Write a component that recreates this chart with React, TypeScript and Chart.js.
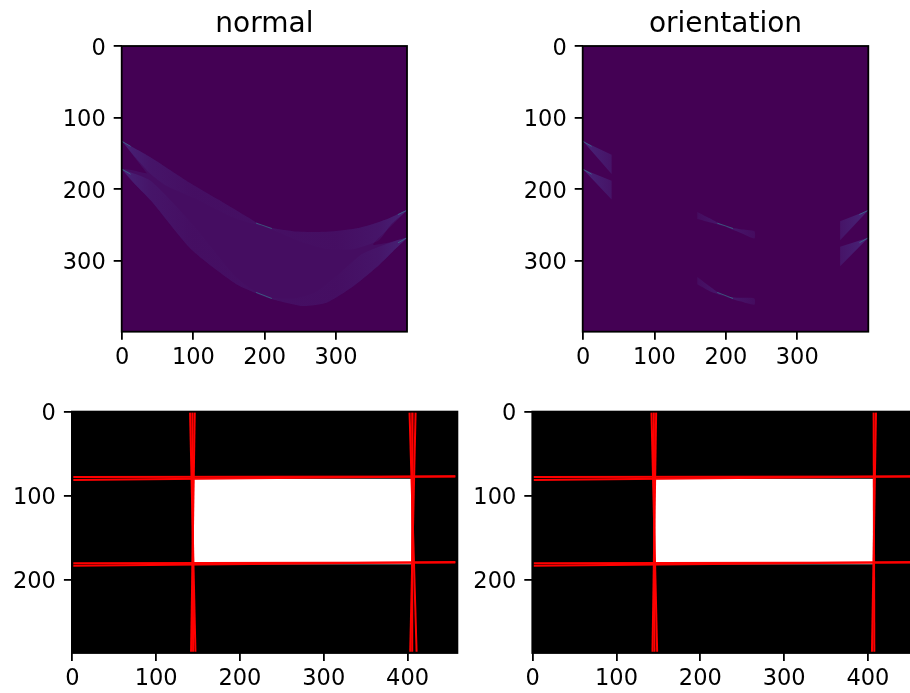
import React, { useEffect, useRef } from "react";
import { Chart, registerables } from "chart.js";

Chart.register(...registerables);

// ---------- data (image-space coordinates) ----------
const heatTicks = [0, 100, 200, 300];
const photoXTicks = [0, 100, 200, 300, 400];
const photoYTicks = [0, 100, 200];
const panelTitles = ["normal", "orientation"];

const normalBandA = [
  [0, 133], [41, 156], [88, 186.6], [135, 214.5], [181, 242], [198, 252], [240, 258.8], [286, 259.7], [333, 254], [370, 242.5], [399.5, 229.4],
  [377, 249.5], [360, 271.4], [324, 284], [287, 284], [254, 275], [225, 263], [198, 252], [160, 241.6], [100, 212], [60, 194], [40, 178.7], [18, 155],
];
const normalBandB = [
  [0, 172], [40, 188], [100, 250], [160, 323], [198, 349.7], [240, 353], [270, 345], [300, 322], [333, 293], [360, 280.7], [399.5, 268],
  [380, 286.7], [356, 310], [323, 337], [287, 359], [254, 363.6], [221, 356.8], [198, 349.7], [160, 333], [97, 284.5], [41, 216.6], [18, 193],
];
const normalEnvelope = [
  [0, 133], [41, 156], [88, 186.6], [135, 214.5], [181, 242], [198, 252], [240, 258.8], [286, 259.7], [333, 254], [370, 242.5], [399.5, 229.4],
  [377, 252], [352, 277.5], [372, 275], [399.5, 268],
  [380, 286.7], [356, 310], [323, 337], [287, 359], [254, 363.6], [221, 356.8], [198, 349.7], [160, 333], [97, 284.5], [41, 216.6], [0, 172],
  [35, 178],
];

const patchLeftA = [[0, 133], [40, 151.6], [40, 178.7]];
const patchLeftB = [[0, 172], [40, 188], [40, 214.5]];
const patchMidA = [[160, 231.8], [180, 242], [198, 252], [220, 256], [240, 258.8], [240, 269], [220, 261], [198, 252], [180, 247], [160, 241.6]];
const patchMidB = [[160, 323], [180, 338], [198, 349.7], [220, 352], [240, 353], [240, 361.7], [220, 357], [198, 349.7], [180, 344], [160, 333]];
const patchRightA = [[360, 244.8], [399.5, 229.4], [360, 271.4]];
const patchRightB = [[360, 280.7], [399.5, 268], [360, 307.7]];

const tipStreaks = [
  [[0, 133], [12, 140]],
  [[0, 172], [12, 179]],
  [[188, 247.5], [210, 255]],
  [[188, 344.5], [210, 353]],
  [[387, 235.5], [399.5, 229.4]],
  [[387, 275], [399.5, 268]],
];

const whiteRectLeft = [[145, 79.5], [405, 79.5], [405, 181.5], [145, 181.5]];
const whiteRectRight = [[146, 79.5], [406, 79.5], [406, 181.5], [146, 181.5]];

const hlinesLeft = [
  [[1.2, 77.6], [457, 77]],
  [[1.2, 81], [457, 76.5]],
  [[1.2, 180.3], [457, 179.5]],
  [[1.2, 183.3], [457, 178.8]],
];
const vlinesLeft = [
  [[140.5, 0.4], [146.9, 286]],
  [[146.1, 0.4], [141.7, 286]],
  [[143.3, 0.4], [144.1, 286]],
  [[402.4, 0.4], [410.8, 286]],
  [[409.6, 0.4], [403.2, 286]],
  [[406, 0.4], [405.6, 286]],
];
const hlinesRight = [
  [[1.2, 77.6], [459.5, 77]],
  [[1.2, 81], [459.5, 76.5]],
  [[1.2, 180.3], [459.5, 179.5]],
  [[1.2, 183.3], [459.5, 178.8]],
];
const vlinesRight = [
  [[141.7, 0.4], [148.5, 286]],
  [[147.3, 0.4], [142.9, 286]],
  [[144.5, 0.4], [145.3, 286]],
  [[409.6, 0.4], [404.8, 286]],
  [[406.8, 0.4], [407.6, 286]],
];

// ---------- styling ----------
const FONT = "'DejaVu Sans', sans-serif";
const VIRIDIS_LOW = "#440154";
const normalStops: [number, number][] = [
  [0, 0.85], [0.1, 0.3], [0.25, 0.05], [0.45, 0.08], [0.5, 0.3], [0.55, 0.08], [0.75, 0.05], [0.9, 0.3], [1, 0.85],
];
const patchStops: [number, number][] = [
  [0, 0.95], [0.1, 0.5], [0.4, 0.3], [0.5, 0.65], [0.6, 0.3], [0.9, 0.5], [1, 0.95],
];
const BAND_RGB = "72,38,122";

const toPts = (a: number[][]) => a.map(([x, y]) => ({ x, y }));

const framePlugin = (bg: string) => ({
  id: "frame",
  beforeDraw(chart: any) {
    const { ctx, chartArea: a } = chart;
    ctx.save();
    ctx.fillStyle = bg;
    ctx.fillRect(a.left, a.top, a.right - a.left, a.bottom - a.top);
    ctx.restore();
  },
  afterDraw(chart: any) {
    const { ctx, chartArea: a } = chart;
    ctx.save();
    ctx.strokeStyle = "#000";
    ctx.lineWidth = 1.8;
    ctx.strokeRect(a.left, a.top, a.right - a.left, a.bottom - a.top);
    ctx.restore();
  },
});

type Area = { left: number; top: number; right: number; bottom: number };
type Panel = {
  left: number; top: number; width: number; height: number;
  area: Area;
  xMax: number; yMax: number; xTicks: number[]; yTicks: number[];
  title?: string; bg: string;
  datasets: (ctx: CanvasRenderingContext2D, area: Area) => any[];
};

const bandGradient = (ctx: CanvasRenderingContext2D, area: Area, stops: [number, number][]) => {
  const g = ctx.createLinearGradient(area.left, 0, area.right, 0);
  stops.forEach(([p, a]) => g.addColorStop(p, `rgba(${BAND_RGB},${a})`));
  return g;
};

const polygon = (pts: number[][], color: any, order = 2, tension = 0) => ({
  data: toPts(pts), showLine: true, fill: "shape", backgroundColor: color,
  borderWidth: 0, pointRadius: 0, order, tension,
});
const stroke = (pts: number[][], color: string, width: number) => ({
  data: toPts(pts), showLine: true, fill: false, borderColor: color,
  borderWidth: width, pointRadius: 0, order: 0,
});

const normalDatasets = (ctx: CanvasRenderingContext2D, area: Area) => {
  const g = bandGradient(ctx, area, normalStops);
  return [
    polygon(normalEnvelope, `rgba(${BAND_RGB},0.34)`, 3, 0.2),
    polygon(normalBandA, g, 2, 0.2),
    polygon(normalBandB, g, 2, 0.2),
    ...tipStreaks.map((t) => stroke(t, "rgba(55,135,150,0.6)", 1)),
  ];
};
const orientationDatasets = (ctx: CanvasRenderingContext2D, area: Area) => {
  const g = bandGradient(ctx, area, patchStops);
  return [
    ...[patchLeftA, patchLeftB, patchRightA, patchRightB].map((b) => polygon(b, g)),
    ...[patchMidA, patchMidB].map((b) => polygon(b, g, 2, 0.2)),
    ...tipStreaks.map((t) => stroke(t, "rgba(55,135,150,0.6)", 1)),
  ];
};

const photoDatasets = (rect: number[][], lines: number[][][]) => () => [
  polygon(rect, "#ffffff", 2),
  ...lines.map((l) => stroke(l, "#ff0000", 2)),
];

const panels: Panel[] = [
  {
    left: 0, top: 0, width: 440, height: 370,
    area: { left: 121.7, top: 46, right: 407, bottom: 331.7 },
    xMax: 399.5, yMax: 399.5, xTicks: heatTicks, yTicks: heatTicks, title: panelTitles[0], bg: VIRIDIS_LOW,
    datasets: normalDatasets,
  },
  {
    left: 460, top: 0, width: 450, height: 370,
    area: { left: 582.7, top: 46, right: 868.3, bottom: 331.7 },
    xMax: 399.5, yMax: 399.5, xTicks: heatTicks, yTicks: heatTicks, title: panelTitles[1], bg: VIRIDIS_LOW,
    datasets: orientationDatasets,
  },
  {
    left: 0, top: 370, width: 490, height: 323,
    area: { left: 71.9, top: 411.6, right: 457.4, bottom: 653 },
    xMax: 459.5, yMax: 287.5, xTicks: photoXTicks, yTicks: photoYTicks, bg: "#000000",
    datasets: photoDatasets(whiteRectLeft, [...hlinesLeft, ...vlinesLeft]),
  },
  {
    left: 470, top: 370, width: 480, height: 323,
    area: { left: 532.3, top: 411.6, right: 917.8, bottom: 653 },
    xMax: 459.5, yMax: 287.5, xTicks: photoXTicks, yTicks: photoYTicks, bg: "#000000",
    datasets: photoDatasets(whiteRectRight, [...hlinesRight, ...vlinesRight]),
  },
];

const axis = (ticks: number[], max: number, vertical: boolean, fit: (s: any) => void) => ({
  type: "linear" as const,
  min: -0.5,
  max,
  reverse: vertical,
  afterBuildTicks: (s: any) => { s.ticks = ticks.map((value) => ({ value })); },
  afterFit: fit,
  border: { display: false },
  grid: { display: true, drawOnChartArea: false, drawTicks: true, tickLength: 8, tickWidth: 1.8, tickColor: "#000", lineWidth: 1.8, color: "#000" },
  ticks: {
    color: "#000", font: { family: FONT, size: 22.5 }, padding: vertical ? 8 : 5,
    labelOffset: vertical ? 2.5 : 0, autoSkip: false, maxRotation: 0, minRotation: 0,
  },
});

function PanelChart({ p }: { p: Panel }) {
  const ref = useRef<HTMLCanvasElement | null>(null);
  useEffect(() => {
    const canvas = ref.current!;
    const ctx = canvas.getContext("2d")!;
    const local = {
      left: p.area.left - p.left, right: p.area.right - p.left,
      top: p.area.top - p.top, bottom: p.area.bottom - p.top,
    };
    const titleH = 46;
    const chart = new Chart(canvas, {
      type: "scatter",
      data: { datasets: p.datasets(ctx, local) },
      plugins: [framePlugin(p.bg)],
      options: {
        animation: false,
        responsive: false,
        maintainAspectRatio: false,
        layout: {
          autoPadding: false,
          padding: {
            left: 0, right: p.width - local.right,
            top: p.title ? local.top - titleH : local.top, bottom: 0,
          },
        },
        plugins: {
          legend: { display: false },
          tooltip: { enabled: false },
          title: p.title
            ? {
                display: true, text: p.title, color: "#000", fullSize: false,
                font: { family: FONT, size: 28, weight: "normal", lineHeight: 1.2 },
                padding: { top: 7.5, bottom: 4.9 },
              }
            : { display: false },
        },
        scales: {
          x: axis(p.xTicks, p.xMax, false, (s: any) => { s.height = p.height - local.bottom; }),
          y: axis(p.yTicks, p.yMax, true, (s: any) => { s.width = local.left; }),
        },
      } as any,
    });
    return () => chart.destroy();
  }, [p]);
  return (
    <canvas
      ref={ref}
      width={p.width}
      height={p.height}
      style={{ position: "absolute", left: p.left, top: p.top, width: p.width, height: p.height, filter: "blur(0.35px)" }}
    />
  );
}

export default function App() {
  return (
    <div style={{ position: "absolute", left: 0, top: 0, width: 910, height: 693, overflow: "hidden", background: "#fff" }}>
      {panels.map((p, i) => <PanelChart key={i} p={p} />)}
    </div>
  );
}
